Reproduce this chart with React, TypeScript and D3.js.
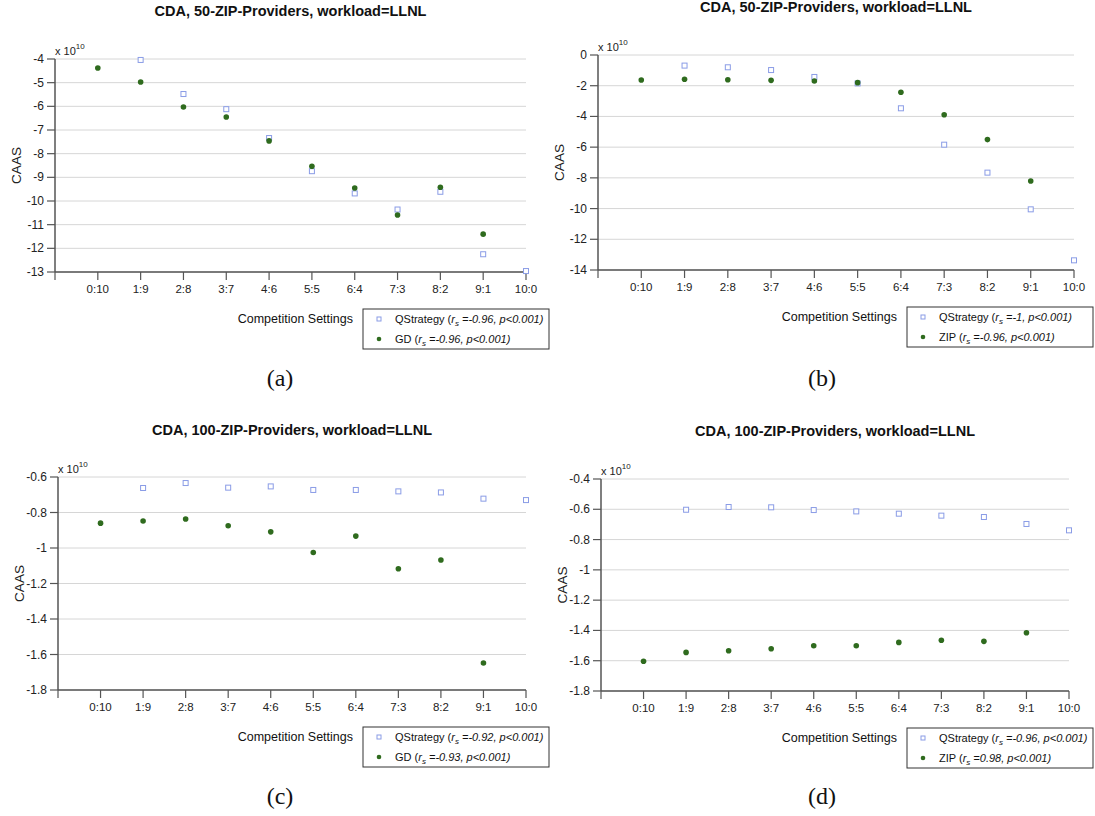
import React from 'react';
import * as d3 from 'd3';

// competition settings (QStrategy : other)
const categories = ["0:10", "1:9", "2:8", "3:7", "4:6", "5:5", "6:4", "7:3", "8:2", "9:1", "10:0"];

// CAAS values, x 10^10 (null = no agents of that type)
const qstratA = [null, -4.04, -5.48, -6.12, -7.34, -8.74, -9.68, -10.36, -9.61, -12.25, -12.96];
const gdA = [-4.38, -4.97, -6.03, -6.45, -7.46, -8.53, -9.45, -10.59, -9.42, -11.4, null];
const qstratB = [null, -0.69, -0.8, -0.98, -1.43, -1.85, -3.47, -5.84, -7.66, -10.05, -13.37];
const zipB = [-1.63, -1.58, -1.61, -1.65, -1.69, -1.8, -2.43, -3.89, -5.51, -8.2, null];
const qstratC = [null, -0.662, -0.634, -0.66, -0.653, -0.673, -0.673, -0.681, -0.687, -0.722, -0.73];
const gdC = [-0.86, -0.848, -0.837, -0.875, -0.909, -1.025, -0.933, -1.117, -1.068, -1.648, null];
const qstratD = [null, -0.603, -0.585, -0.587, -0.605, -0.614, -0.629, -0.642, -0.651, -0.697, -0.739];
const zipD = [-1.604, -1.545, -1.534, -1.521, -1.501, -1.501, -1.479, -1.465, -1.472, -1.415, null];

const ticksA = [-4, -5, -6, -7, -8, -9, -10, -11, -12, -13];
const ticksB = [0, -2, -4, -6, -8, -10, -12, -14];
const ticksC = [-0.6, -0.8, -1, -1.2, -1.4, -1.6, -1.8];
const ticksD = [-0.4, -0.6, -0.8, -1, -1.2, -1.4, -1.6, -1.8];

const titles = [
  "CDA, 50-ZIP-Providers, workload=LLNL",
  "CDA, 50-ZIP-Providers, workload=LLNL",
  "CDA, 100-ZIP-Providers, workload=LLNL",
  "CDA, 100-ZIP-Providers, workload=LLNL",
];
const otherNames = ["GD", "ZIP", "GD", "ZIP"];
const qstratRs = ["-0.96", "-1", "-0.92", "-0.96"];
const otherRs = ["-0.96", "-0.96", "-0.93", "0.98"];
const captions = ["(a)", "(b)", "(c)", "(d)"];

const FONT = "Liberation Sans, Arial, Helvetica, sans-serif";
const SQ_COLOR = "#8a9ce6";
const DOT_COLOR = "#2f6b1e";
const AXIS_COLOR = "#555";

const panels = [
  { q: qstratA, o: gdA, ticks: ticksA, axisX: 55, right: 526, top: 59, bottom: 272, titleY: 16, legRight: 549, capX: 280, capY: 386 },
  { q: qstratB, o: zipB, ticks: ticksB, axisX: 598, right: 1074, top: 55, bottom: 270, titleY: 12, legRight: 1093, capX: 822, capY: 386 },
  { q: qstratC, o: gdC, ticks: ticksC, axisX: 58, right: 526, top: 477, bottom: 690, titleY: 435, legRight: 549, capX: 280, capY: 804 },
  { q: qstratD, o: zipD, ticks: ticksD, axisX: 601, right: 1069, top: 479, bottom: 691, titleY: 436, legRight: 1093, capX: 822, capY: 804 },
];

const fmt = (v: number) => String(+v.toFixed(1));

function LegendLabel({ x, y, name, rs }: { x: number; y: number; name: string; rs: string }) {
  return (
    <text x={x} y={y} fontSize={11} fontFamily={FONT} fill="#111">
      {name + " ("}
      <tspan fontStyle="italic">r</tspan>
      <tspan fontStyle="italic" fontSize={8} dy={3}>s</tspan>
      <tspan fontStyle="italic" dy={-3}>{" =" + rs + ", p<0.001)"}</tspan>
    </text>
  );
}

function Panel({ i }: { i: number }) {
  const p = panels[i];
  const x = d3.scaleLinear().domain([-1, categories.length - 1]).range([p.axisX, p.right]);
  const ext = d3.extent(p.ticks) as [number, number];
  const y = d3.scaleLinear().domain(ext).range([p.bottom, p.top]);
  const legW = 186;
  const legX = p.legRight - legW;
  const legY = p.bottom + 37;
  const sq = 5;

  return (
    <g>
      <text x={(p.axisX + p.right) / 2} y={p.titleY} textAnchor="middle" fontFamily={FONT}
        fontWeight="bold" fontSize={14.5} fill="#111">{titles[i]}</text>

      {/* grid + y ticks */}
      {p.ticks.map((t) => (
        <g key={t}>
          <line x1={p.axisX} x2={p.right} y1={y(t)} y2={y(t)} stroke="#d6d6d6" strokeWidth={1} />
          <line x1={p.axisX - 8} x2={p.axisX} y1={y(t)} y2={y(t)} stroke={AXIS_COLOR} strokeWidth={1.2} />
          <text x={p.axisX - 11} y={y(t) + 4} textAnchor="end" fontSize={12} fontFamily={FONT} fill="#222">{fmt(t)}</text>
        </g>
      ))}
      <text x={p.axisX} y={p.top - 4} fontSize={11} fontFamily={FONT} fill="#222">
        x 10<tspan fontSize={8} dy={-6}>10</tspan>
      </text>

      {/* axes */}
      <line x1={p.axisX} x2={p.axisX} y1={p.top} y2={p.bottom} stroke={AXIS_COLOR} strokeWidth={1.5} />
      <line x1={p.axisX} x2={p.right} y1={p.bottom} y2={p.bottom} stroke={AXIS_COLOR} strokeWidth={1.5} />
      {d3.range(-1, categories.length).map((k) => (
        <line key={k} x1={x(k)} x2={x(k)} y1={p.bottom} y2={p.bottom + 8} stroke={AXIS_COLOR} strokeWidth={1.2} />
      ))}
      {categories.map((c, k) => (
        <text key={c} x={x(k)} y={p.bottom + 21} textAnchor="middle" fontSize={11.5} fontFamily={FONT} fill="#222">{c}</text>
      ))}

      <text transform={`translate(${p.axisX - 34},${(p.top + p.bottom) / 2}) rotate(-90)`} textAnchor="middle"
        fontSize={13.5} fontFamily={FONT} fill="#222">CAAS</text>

      {/* points */}
      {p.q.map((v, k) => v == null ? null : (
        <rect key={"q" + k} x={x(k) - sq / 2} y={y(v) - sq / 2} width={sq} height={sq}
          fill="white" stroke={SQ_COLOR} strokeWidth={1} />
      ))}
      {p.o.map((v, k) => v == null ? null : (
        <circle key={"o" + k} cx={x(k)} cy={y(v)} r={2.8} fill={DOT_COLOR} />
      ))}

      {/* x label + legend */}
      <text x={legX - 10} y={legY + 14} textAnchor="end" fontSize={12.5} fontFamily={FONT} fill="#111">Competition Settings</text>
      <rect x={legX} y={legY} width={legW} height={40} fill="white" stroke="#333" strokeWidth={1} />
      <rect x={legX + 14} y={legY + 8} width={4} height={4} fill="white" stroke={SQ_COLOR} strokeWidth={1} />
      <LegendLabel x={legX + 32} y={legY + 14} name="QStrategy" rs={qstratRs[i]} />
      <circle cx={legX + 16} cy={legY + 30} r={2.3} fill={DOT_COLOR} />
      <LegendLabel x={legX + 32} y={legY + 34} name={otherNames[i]} rs={otherRs[i]} />

      <text x={p.capX} y={p.capY} textAnchor="middle" fontSize={24} fontFamily="Liberation Serif, DejaVu Serif, serif" fill="#111">{captions[i]}</text>
    </g>
  );
}

export default function App() {
  return (
    <svg width={1095} height={816} style={{ position: 'absolute', left: 0, top: 0, background: 'white' }}>
      <rect width={1095} height={816} fill="white" />
      {panels.map((_, i) => <Panel key={i} i={i} />)}
    </svg>
  );
}
